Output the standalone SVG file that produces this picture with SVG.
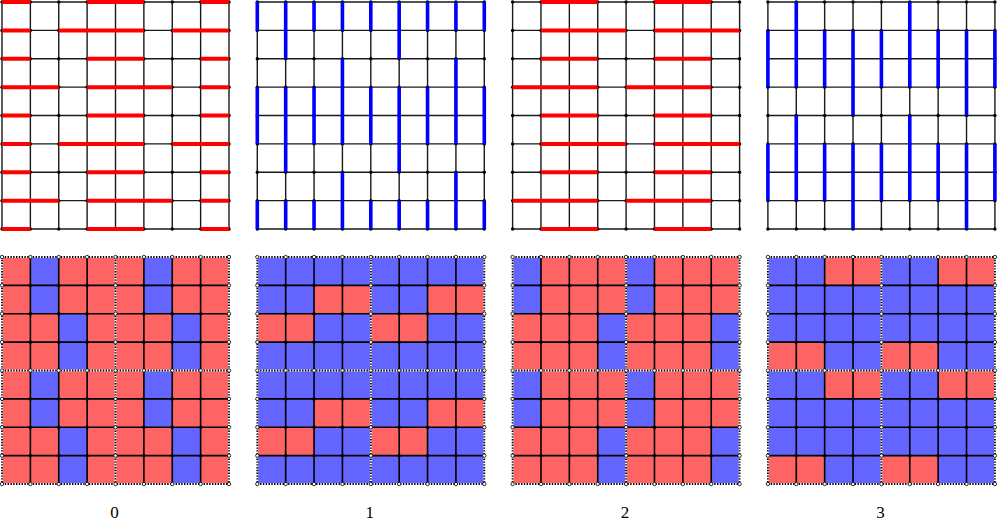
<svg xmlns="http://www.w3.org/2000/svg" xmlns:xlink="http://www.w3.org/1999/xlink" width="997" height="523" viewBox="0 0 997 523">
<style>
.gl{fill:none;stroke:#1a1a1a;stroke-width:1.4}
.bl{fill:none;stroke:#000;stroke-width:1.6}
.dw{fill:none;stroke:#fff;stroke-width:1.8}
.dk{fill:none;stroke:#000;stroke-width:1.8;stroke-dasharray:1.4 1.4}
.red{fill:none;stroke:#ff0000;stroke-width:4;stroke-linecap:butt}
.blue{fill:none;stroke:#0000ff;stroke-width:3.6;stroke-linecap:butt}
.rf{fill:#ff6464}
.bf{fill:#6464ff}
.dot{fill:#000}
.hol{fill:#fff;stroke:#000;stroke-width:0.8}
.lab{font-family:"Liberation Serif","DejaVu Serif",serif;font-size:17px;fill:#000;text-anchor:middle}
</style>
<defs>
<circle id="d" class="dot" r="1.7"/>
<circle id="h" class="hol" r="1.7"/>
<g id="drow">
<use xlink:href="#d" x="0"/><use xlink:href="#d" x="28.375"/><use xlink:href="#d" x="56.75"/><use xlink:href="#d" x="85.125"/><use xlink:href="#d" x="113.5"/><use xlink:href="#d" x="141.875"/><use xlink:href="#d" x="170.25"/><use xlink:href="#d" x="198.625"/><use xlink:href="#d" x="227"/>
</g>
<g id="hrow">
<use xlink:href="#h" x="0"/><use xlink:href="#h" x="28.375"/><use xlink:href="#h" x="56.75"/><use xlink:href="#h" x="85.125"/><use xlink:href="#h" x="113.5"/><use xlink:href="#h" x="141.875"/><use xlink:href="#h" x="170.25"/><use xlink:href="#h" x="198.625"/><use xlink:href="#h" x="227"/>
</g>
<g id="mrow">
<use xlink:href="#h" x="0"/><use xlink:href="#d" x="28.375"/><use xlink:href="#d" x="56.75"/><use xlink:href="#d" x="85.125"/><use xlink:href="#h" x="113.5"/><use xlink:href="#d" x="141.875"/><use xlink:href="#d" x="170.25"/><use xlink:href="#d" x="198.625"/><use xlink:href="#h" x="227"/>
</g>
<g id="tgrid">
<path class="gl" d="M0 0H227M0 28.375H227M0 56.75H227M0 85.125H227M0 113.5H227M0 141.875H227M0 170.25H227M0 198.625H227M0 227H227M0 0V227M28.375 0V227M56.75 0V227M85.125 0V227M113.5 0V227M141.875 0V227M170.25 0V227M198.625 0V227M227 0V227"/>
<use xlink:href="#drow" y="0"/><use xlink:href="#drow" y="28.375"/><use xlink:href="#drow" y="56.75"/><use xlink:href="#drow" y="85.125"/><use xlink:href="#drow" y="113.5"/><use xlink:href="#drow" y="141.875"/><use xlink:href="#drow" y="170.25"/><use xlink:href="#drow" y="198.625"/><use xlink:href="#drow" y="227"/>
</g>
<g id="bgrid">
<path class="bl" d="M0 28.375H227M0 56.75H227M0 85.125H227M0 141.875H227M0 170.25H227M0 198.625H227M28.375 0V227M56.75 0V227M85.125 0V227M141.875 0V227M170.25 0V227M198.625 0V227"/>
<path class="dw" d="M0 0H227M0 113.5H227M0 227H227M0 0V227M113.5 0V227M227 0V227"/>
<path class="dk" d="M0 0H227M0 113.5H227M0 227H227M0 0V227M113.5 0V227M227 0V227"/>
<use xlink:href="#hrow" y="0"/><use xlink:href="#mrow" y="28.375"/><use xlink:href="#mrow" y="56.75"/><use xlink:href="#mrow" y="85.125"/><use xlink:href="#hrow" y="113.5"/><use xlink:href="#mrow" y="141.875"/><use xlink:href="#mrow" y="170.25"/><use xlink:href="#mrow" y="198.625"/><use xlink:href="#hrow" y="227"/>
</g>
</defs>

<g id="panel0">
<g transform="translate(2,2)">
<use xlink:href="#tgrid"/>
<path class="red" d="M0 0H28.375M85.125 0H141.875M198.625 0H227M0 56.75H28.375M85.125 56.75H141.875M198.625 56.75H227M0 113.5H28.375M85.125 113.5H141.875M198.625 113.5H227M0 170.25H28.375M85.125 170.25H141.875M198.625 170.25H227M0 227H28.375M85.125 227H141.875M198.625 227H227M0 28.375H28.375M56.75 28.375H141.875M170.25 28.375H227M0 141.875H28.375M56.75 141.875H141.875M170.25 141.875H227M0 85.125H56.75M85.125 85.125H170.25M198.625 85.125H227M0 198.625H56.75M85.125 198.625H170.25M198.625 198.625H227"/>
</g>
<g transform="translate(2,257)">
<rect class="rf" x="0" y="0" width="227" height="227"/>
<rect class="bf" x="28.375" y="0" width="28.375" height="56.75"/>
<rect class="bf" x="141.875" y="0" width="28.375" height="56.75"/>
<rect class="bf" x="28.375" y="113.5" width="28.375" height="56.75"/>
<rect class="bf" x="141.875" y="113.5" width="28.375" height="56.75"/>
<rect class="bf" x="56.75" y="56.75" width="28.375" height="56.75"/>
<rect class="bf" x="170.25" y="56.75" width="28.375" height="56.75"/>
<rect class="bf" x="56.75" y="170.25" width="28.375" height="56.75"/>
<rect class="bf" x="170.25" y="170.25" width="28.375" height="56.75"/>
<use xlink:href="#bgrid"/>
</g>
<text class="lab" x="114.5" y="518">0</text>
</g>

<g id="panel1">
<g transform="translate(257.3,2)">
<use xlink:href="#tgrid"/>
<path class="blue" d="M0 0V28.375M0 85.125V141.875M0 198.625V227M56.75 0V28.375M56.75 85.125V141.875M56.75 198.625V227M113.5 0V28.375M113.5 85.125V141.875M113.5 198.625V227M170.25 0V28.375M170.25 85.125V141.875M170.25 198.625V227M227 0V28.375M227 85.125V141.875M227 198.625V227M28.375 0V56.75M28.375 85.125V170.25M28.375 198.625V227M141.875 0V56.75M141.875 85.125V170.25M141.875 198.625V227M85.125 0V28.375M85.125 56.75V141.875M85.125 170.25V227M198.625 0V28.375M198.625 56.75V141.875M198.625 170.25V227"/>
</g>
<g transform="translate(257.3,257)">
<rect class="bf" x="0" y="0" width="227" height="227"/>
<rect class="rf" x="56.75" y="28.375" width="56.75" height="28.375"/>
<rect class="rf" x="170.25" y="28.375" width="56.75" height="28.375"/>
<rect class="rf" x="0" y="56.75" width="56.75" height="28.375"/>
<rect class="rf" x="113.5" y="56.75" width="56.75" height="28.375"/>
<rect class="rf" x="56.75" y="141.875" width="56.75" height="28.375"/>
<rect class="rf" x="170.25" y="141.875" width="56.75" height="28.375"/>
<rect class="rf" x="0" y="170.25" width="56.75" height="28.375"/>
<rect class="rf" x="113.5" y="170.25" width="56.75" height="28.375"/>
<use xlink:href="#bgrid"/>
</g>
<text class="lab" x="369.8" y="518">1</text>
</g>

<g id="panel2">
<g transform="translate(512.6,2)">
<use xlink:href="#tgrid"/>
<path class="red" d="M28.375 0H85.125M141.875 0H198.625M28.375 56.75H85.125M141.875 56.75H198.625M28.375 113.5H85.125M141.875 113.5H198.625M28.375 170.25H85.125M141.875 170.25H198.625M28.375 227H85.125M141.875 227H198.625M28.375 28.375H113.5M141.875 28.375H227M28.375 141.875H113.5M141.875 141.875H227M0 85.125H85.125M113.5 85.125H198.625M0 198.625H85.125M113.5 198.625H198.625"/>
</g>
<g transform="translate(512.6,257)">
<rect class="rf" x="0" y="0" width="227" height="227"/>
<rect class="bf" x="0" y="0" width="28.375" height="56.75"/>
<rect class="bf" x="113.5" y="0" width="28.375" height="56.75"/>
<rect class="bf" x="0" y="113.5" width="28.375" height="56.75"/>
<rect class="bf" x="113.5" y="113.5" width="28.375" height="56.75"/>
<rect class="bf" x="85.125" y="56.75" width="28.375" height="56.75"/>
<rect class="bf" x="198.625" y="56.75" width="28.375" height="56.75"/>
<rect class="bf" x="85.125" y="170.25" width="28.375" height="56.75"/>
<rect class="bf" x="198.625" y="170.25" width="28.375" height="56.75"/>
<use xlink:href="#bgrid"/>
</g>
<text class="lab" x="625.1" y="518">2</text>
</g>

<g id="panel3">
<g transform="translate(767.9,2)">
<use xlink:href="#tgrid"/>
<path class="blue" d="M0 28.375V85.125M0 141.875V198.625M56.75 28.375V85.125M56.75 141.875V198.625M113.5 28.375V85.125M113.5 141.875V198.625M170.25 28.375V85.125M170.25 141.875V198.625M227 28.375V85.125M227 141.875V198.625M28.375 0V85.125M28.375 113.5V198.625M141.875 0V85.125M141.875 113.5V198.625M85.125 28.375V113.5M85.125 141.875V227M198.625 28.375V113.5M198.625 141.875V227"/>
</g>
<g transform="translate(767.9,257)">
<rect class="bf" x="0" y="0" width="227" height="227"/>
<rect class="rf" x="56.75" y="0" width="56.75" height="28.375"/>
<rect class="rf" x="170.25" y="0" width="56.75" height="28.375"/>
<rect class="rf" x="0" y="85.125" width="56.75" height="28.375"/>
<rect class="rf" x="113.5" y="85.125" width="56.75" height="28.375"/>
<rect class="rf" x="56.75" y="113.5" width="56.75" height="28.375"/>
<rect class="rf" x="170.25" y="113.5" width="56.75" height="28.375"/>
<rect class="rf" x="0" y="198.625" width="56.75" height="28.375"/>
<rect class="rf" x="113.5" y="198.625" width="56.75" height="28.375"/>
<use xlink:href="#bgrid"/>
</g>
<text class="lab" x="880.4" y="518">3</text>
</g>
</svg>
